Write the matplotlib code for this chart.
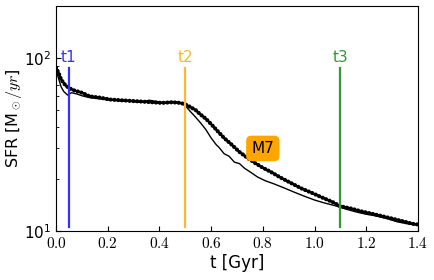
import numpy as np
import matplotlib
matplotlib.use("Agg")
import matplotlib.pyplot as plt
from matplotlib.ticker import FuncFormatter

plt.rcParams['mathtext.fontset'] = 'cm'

# smoothed SFR (beaded thick curve)
t_thick = [0.0, 0.01, 0.02, 0.035, 0.05, 0.07, 0.1, 0.13, 0.17, 0.21, 0.25, 0.29,
           0.33, 0.37, 0.41, 0.45, 0.48, 0.5, 0.52, 0.54, 0.56, 0.58, 0.6, 0.62,
           0.65, 0.68, 0.71, 0.74, 0.77, 0.8, 0.83, 0.87, 0.91, 0.95, 0.99, 1.03,
           1.07, 1.1, 1.14, 1.18, 1.22, 1.26, 1.3, 1.34, 1.38, 1.4]
sfr_thick = [88, 82, 75, 70, 67, 65, 63, 60, 59, 57.5, 57, 56.5,
             56, 55.5, 55, 55.5, 55, 54, 52, 50, 47, 44.5, 41.5, 38.5,
             34.5, 31.5, 28.6, 26.5, 24.7, 23.2, 22, 20.3, 18.9, 17.6, 16.6, 15.6,
             14.7, 13.9, 13.5, 13.0, 12.6, 12.2, 11.8, 11.4, 11.0, 10.9]

# raw SFR (thin curve)
t_thin = [0.0, 0.01, 0.02, 0.03, 0.045, 0.06, 0.08, 0.1, 0.13, 0.17, 0.21, 0.25,
          0.29, 0.33, 0.36, 0.39, 0.42, 0.45, 0.48, 0.5, 0.52, 0.54, 0.56, 0.58,
          0.6, 0.62, 0.63, 0.65, 0.67, 0.69, 0.71, 0.73, 0.75, 0.78, 0.81, 0.84,
          0.88, 0.92, 0.96, 1.0, 1.04, 1.08, 1.12, 1.16, 1.2, 1.24, 1.28, 1.32,
          1.36, 1.4]
sfr_thin = [85, 76, 68, 64, 61, 63, 62, 60.5, 59, 58, 57, 56.5,
            56, 55.5, 57, 56, 55, 56, 55, 53, 49, 45.5, 42, 38.5,
            34.5, 31.5, 30.5, 28, 27, 25, 24.5, 23, 22, 20.5, 19.5, 18.8,
            17.8, 16.8, 15.9, 15.1, 14.5, 14.0, 13.4, 12.9, 12.5, 12.2, 11.8, 11.3,
            11.0, 10.8]

# snapshot times
snap_t = [0.05, 0.5, 1.1]
snap_labels = ['t1', 't2', 't3']
snap_colors = ['#3333ff', '#ffb733', '#339933']

fig = plt.figure(figsize=(4.34, 2.80), dpi=100)
ax = fig.add_axes([0.129, 0.175, 0.834, 0.804])

ax.plot(t_thin, sfr_thin, color='black', lw=1.0)
ax.plot(t_thick, sfr_thick, color='black', lw=1.6)
ax.plot(t_thick, sfr_thick, color='black', lw=3.0, linestyle=(0, (0.01, 0.9)),
        dash_capstyle='round')

for ts, lab, c in zip(snap_t, snap_labels, snap_colors):
    ax.plot([ts, ts], [10.6, 87], color=c, lw=1.6)
    ax.text(ts, 100, lab, color=c, fontsize=11, ha='center', va='center')

ax.text(0.8, 30, 'M7', fontsize=11, ha='center', va='center',
        bbox=dict(boxstyle='round,pad=0.3', fc='orange', ec='orange'))

ax.set_yscale('log')
ax.set_xlim(0, 1.4)
ax.set_ylim(10, 200)
ax.set_xticks(np.arange(0, 1.41, 0.2))
ax.xaxis.set_major_formatter(FuncFormatter(lambda v, p: r'$%.1f$' % v))
ax.tick_params(direction='in', which='both', labelsize=11)
ax.tick_params(axis='y', which='minor', labelleft=False)
ax.set_xlabel('t [Gyr]', fontsize=12, labelpad=2)
ax.set_ylabel(r'SFR [M$_\odot/yr$]', fontsize=11.5, labelpad=0)

fig.savefig('out.png', dpi=100)
